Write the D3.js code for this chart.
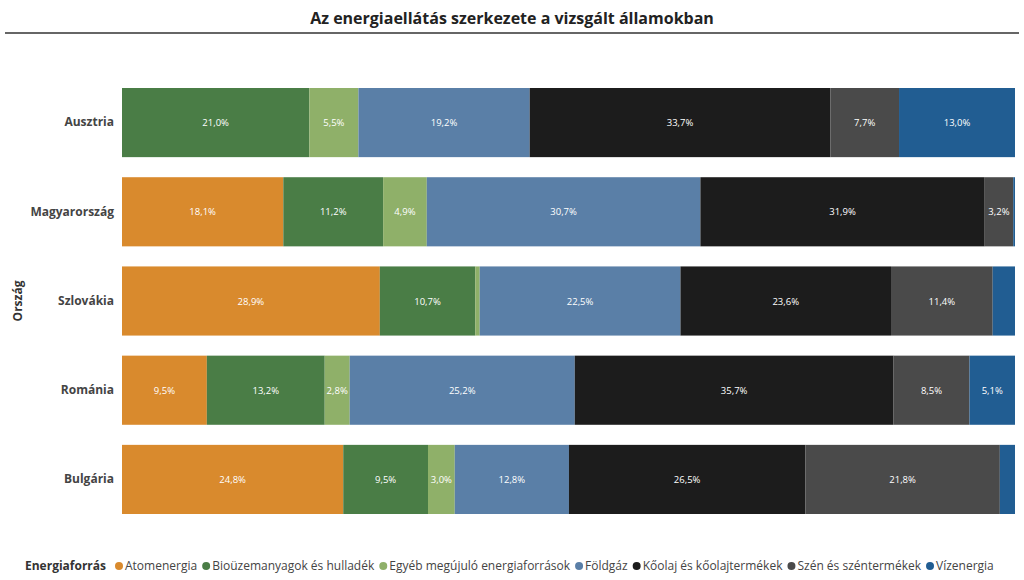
<!DOCTYPE html>
<html><head><meta charset="utf-8">
<script src="https://cdn.jsdelivr.net/npm/d3@7"></script>
<style>body{margin:0;background:#fff;font-family:"Segoe UI","Open Sans",sans-serif}</style>
</head><body><svg id="c" width="1024" height="580"></svg>
<script>
const countries = ["Ausztria","Magyarország","Szlovákia","Románia","Bulgária"];
const sources = ["Atomenergia","Bioüzemanyagok és hulladék","Egyéb megújuló energiaforrások","Földgáz","Kőolaj és kőolajtermékek","Szén és széntermékek","Vízenergia"];
const colors = ["#d98a2d","#4a7d46","#8fb069","#5a7fa7","#1c1c1c","#4a4a4a","#215d92"];
const atom   = [0, 18.1, 28.9, 9.5, 24.8];
const bio    = [21.0, 11.2, 10.7, 13.2, 9.5];
const egyeb  = [5.5, 4.9, 0.5, 2.8, 3.0];
const foldgaz= [19.2, 30.7, 22.5, 25.2, 12.8];
const koolaj = [33.7, 31.9, 23.6, 35.7, 26.5];
const szen   = [7.7, 3.2, 11.4, 8.5, 21.8];
const viz    = [13.0, 0.2, 2.5, 5.1, 1.7];
const series = [atom,bio,egyeb,foldgaz,koolaj,szen,viz];

const svg = d3.select("#c");
svg.append("text").attr("x",512).attr("y",24).attr("text-anchor","middle")
  .attr("font-size",16).attr("font-weight","bold").attr("fill","#222")
  .text("Az energiaellátás szerkezete a vizsgált államokban");
svg.append("line").attr("x1",5).attr("x2",1019).attr("y1",33).attr("y2",33).attr("stroke","#333").attr("stroke-width",1.5);

const rows = countries.map((c,i)=>{const o={country:c}; sources.forEach((s,j)=>o[s]=series[j][i]); return o;});
const stacked = d3.stack().keys(sources).offset(d3.stackOffsetExpand)(rows);

const x = d3.scaleLinear().domain([0,1]).range([122,1015]);
const y = d3.scaleBand().domain(countries).range([88,514]).paddingInner(0.225).paddingOuter(0);

const g = svg.append("g");
stacked.forEach((layer,j)=>{
  g.selectAll(null).data(layer).join("rect")
    .attr("x",d=>x(d[0])).attr("width",d=>x(d[1])-x(d[0]))
    .attr("y",d=>y(d.data.country)).attr("height",y.bandwidth())
    .attr("fill",colors[j]);
  g.selectAll(null).data(layer.filter(d=>d.data[sources[j]]>=2.7)).join("text")
    .attr("x",d=>(x(d[0])+x(d[1]))/2).attr("y",d=>y(d.data.country)+y.bandwidth()/2+3.5)
    .attr("text-anchor","middle").attr("font-size",9.5).attr("fill","#fff")
    .text(d=>d.data[sources[j]].toFixed(1).replace(".",",")+"%");
});

svg.append("g").attr("transform","translate(122,0)")
  .call(d3.axisLeft(y).tickSize(0).tickPadding(8))
  .call(a=>a.select(".domain").remove())
  .selectAll("text").attr("font-size",12).attr("font-weight","bold").attr("fill","#444")
  .attr("font-family","'Segoe UI','Open Sans',sans-serif");

svg.append("text").attr("transform","translate(22,301) rotate(-90)").attr("text-anchor","middle")
  .attr("font-size",12).attr("font-weight","bold").attr("fill","#333").text("Ország");

const lg = svg.append("g").attr("transform","translate(25,566)");
lg.append("text").attr("y",4).attr("font-size",12).attr("font-weight","bold").attr("fill","#333").text("Energiaforrás");
let lx = 90;
sources.forEach((s,j)=>{
  lg.append("circle").attr("cx",lx+4).attr("cy",0).attr("r",4).attr("fill",colors[j]);
  const t = lg.append("text").attr("x",lx+10).attr("y",4).attr("font-size",12).attr("fill","#444").text(s);
  lx += 10 + t.node().getComputedTextLength() + 5;
});
</script></body></html>
